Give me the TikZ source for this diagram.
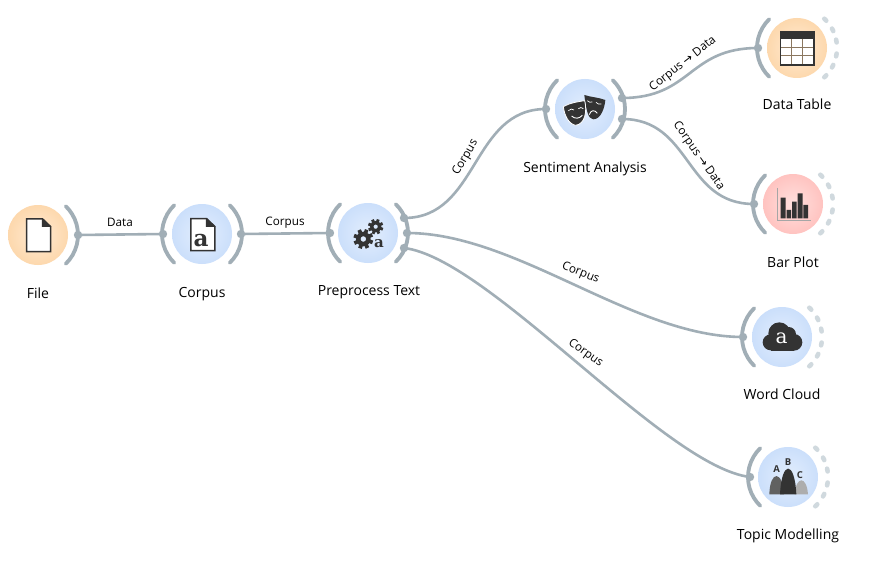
\documentclass[tikz,border=0pt]{standalone}
\usepackage{fontspec}
\setmainfont{Open Sans}
\newfontfamily\serifbold[BoldFont=DejaVu Serif Bold]{DejaVu Serif}
\newfontfamily\arrowfont{DejaVu Sans}
\definecolor{lnk}{HTML}{A1AEB6}
\definecolor{ink}{HTML}{333333}
\definecolor{dots}{HTML}{D0D9DE}
\definecolor{orin}{HTML}{FFEBD4}
\definecolor{orout}{HTML}{FDD8AD}
\definecolor{blin}{HTML}{E3EEFD}
\definecolor{blout}{HTML}{CBDFFB}
\definecolor{rdin}{HTML}{FFE0DE}
\definecolor{rdout}{HTML}{FFC3C0}
\tikzset{
  widget/.style={circle,minimum size=60pt,inner sep=0pt,shade},
  orangew/.style={widget,inner color=orin,outer color=orout},
  bluew/.style={widget,inner color=blin,outer color=blout},
  redw/.style={widget,inner color=rdin,outer color=rdout},
  chan/.style={circle,fill=lnk,minimum size=8.4pt,inner sep=0pt},
  ring/.style={draw=lnk,line width=3.8pt,line cap=round},
  dashring/.style={draw=dots,line width=4.6pt,line cap=round},
  edge/.style={draw=lnk,line width=2.6pt},
  title/.style={font=\fontsize{14}{16}\selectfont,text=black,inner sep=0pt,anchor=base},
  elabel/.style={font=\fontsize{11.7}{13}\selectfont,text=black,inner sep=0pt},
}
\newcommand{\ringL}[1]{\draw[ring] (#1.center) ++(134:40) arc (134:226:40);}
\newcommand{\ringR}[1]{\draw[ring] (#1.center) ++(-46:40) arc (-46:46:40);}
\newcommand{\ringD}[1]{\foreach \a in {-45,-27,-10,10,27,45}{\draw[dashring] (#1.center) ++(\a-2:40) arc (\a-2:\a+2:40);}}
\newcommand{\gearicon}[3]{% cx cy r (zoom units)
  \draw[ink,line width=#3*0.19pt] (#1,#2) circle (#3*0.7);
  \foreach \a in {0,45,...,315}{\draw[ink,line width=#3*0.17pt] (#1,#2) ++(\a+20:#3*0.8) -- ++(\a+20:#3*0.55);}
}
\begin{document}
\begin{tikzpicture}[x=1pt,y=-1pt]
\useasboundingbox (0,0) rectangle (870,575);
\fill[white] (0,0) rectangle (870,575);

% widgets
\node[orangew] (file) at (38,235) {};
\node[bluew] (corpus) at (202,234) {};
\node[bluew] (prep) at (368,233) {};
\node[bluew] (sent) at (585,109) {};
\node[orangew] (table) at (797,48) {};
\node[redw] (bar) at (793,204) {};
\node[bluew] (cloud) at (782,337) {};
\node[bluew] (topic) at (788,477) {};

% rings
\ringR{file}
\ringL{corpus}\ringR{corpus}
\ringL{prep}\ringR{prep}
\ringL{sent}\ringR{sent}
\ringL{table}\ringD{table}
\ringL{bar}\ringD{bar}
\ringL{cloud}\ringD{cloud}
\ringL{topic}\ringD{topic}

% channel anchors
\node[chan] (fileO) at (78,235) {};
\node[chan] (corpusI) at (163,234) {};
\node[chan] (corpusO) at (241,234) {};
\node[chan] (prepI) at (330,233) {};
\node[chan] (prepA) at (404,218) {};
\node[chan] (prepB) at (407,233) {};
\node[chan] (prepC) at (404,248) {};
\node[chan] (sentI) at (546,109) {};
\node[chan] (sentA) at (622,98) {};
\node[chan] (sentB) at (622,119) {};
\node[chan] (tableI) at (758,48) {};
\node[chan] (barI) at (754,204) {};
\node[chan] (cloudI) at (743,337) {};
\node[chan] (topicI) at (750,477) {};

% connectors
\draw[edge] (fileO.center) -- (corpusI.center);
\draw[edge] (corpusO.center) -- (prepI.center);
\draw[edge] (prepA.center) .. controls +(75,0) and +(-75,0) .. (sentI.center);
\draw[edge] (prepB.center) .. controls +(110,0) and +(-110,0) .. (cloudI.center);
\draw[edge] (prepC.center) .. controls +(85,10) and +(-85,-10) .. (topicI.center);
\draw[edge] (sentA.center) .. controls +(70,0) and +(-70,0) .. (tableI.center);
\draw[edge] (sentB.center) .. controls +(70,0) and +(-70,0) .. (barI.center);

% connector labels
\node[elabel] (l1) at (120,222) {Data};
\node[elabel] (l2) at (285,222.5) {Corpus};
\node[elabel,rotate=60] (l3) at (465.5,157.5) {Corpus};
\node[elabel,rotate=38] (l4) at (683,64) {Corpus {\arrowfont→} Data};
\node[elabel,rotate=-55] (l5) at (698.5,156) {Corpus {\arrowfont→} Data};
\node[elabel,rotate=-22] (l6) at (580.5,273) {Corpus};
\node[elabel,rotate=-35] (l7) at (585.5,353) {Corpus};

% titles
\node[title] (t1) at (38,298) {File};
\node[title] (t2) at (202,297) {Corpus};
\node[title] (t3) at (369,295) {Preprocess Text};
\node[title] (t4) at (585,172) {Sentiment Analysis};
\node[title] (t5) at (797,110) {Data Table};
\node[title] (t6) at (793,267) {Bar Plot};
\node[title] (t7) at (782,399) {Word Cloud};
\node[title] (t8) at (788,539) {Topic Modelling};

% icon: file
\begin{scope}[shift={(0,180)},x=0.3333pt,y=-0.3333pt]
\draw[ink,line width=1.5pt,fill=white] (80,117) -- (128,117) -- (152,140) -- (152,215) -- (80,215) -- cycle;
\fill[ink] (126,115) -- (154,141) -- (126,141) -- cycle;
\end{scope}
% icon: corpus
\begin{scope}[shift={(0,180)},x=0.3333pt,y=-0.3333pt]
\draw[ink,line width=1.5pt,fill=white] (573,116) -- (620,116) -- (645,140) -- (645,212) -- (573,212) -- cycle;
\fill[ink] (618,114) -- (647,141) -- (618,141) -- cycle;
\node[text=ink,inner sep=0pt,font=\fontsize{23}{23}\serifbold\bfseries] at (603,182) {a};
\end{scope}
% icon: preprocess
\begin{scope}[shift={(310,180)},x=0.3333pt,y=-0.3333pt]
\gearicon{160}{177}{22}
\gearicon{197}{140}{17}
\node[text=ink,inner sep=0pt,font=\fontsize{15}{15}\serifbold\bfseries] at (207,190) {a};
\end{scope}
% icon: masks
\begin{scope}[shift={(530,60)},x=0.3333pt,y=-0.3333pt]
\fill[ink] (163,105) .. controls (185,112) and (205,112) .. (226,120) .. controls (224,145) and (212,178) .. (190,178) .. controls (175,178) and (168,150) .. (163,105) -- cycle;
\draw[ink,fill=ink,draw=white,line width=.8pt] (100,140) .. controls (120,128) and (145,125) .. (164,122) .. controls (172,155) and (165,192) .. (137,196) .. controls (115,192) and (103,165) .. (100,140) -- cycle;
\draw[white,line width=.7pt] (115,152) .. controls (120,146) and (128,146) .. (132,150);
\draw[white,line width=.7pt] (145,146) .. controls (150,141) and (156,142) .. (160,146);
\draw[white,line width=.9pt] (125,168) .. controls (135,178) and (148,176) .. (157,166);
\draw[white,line width=.7pt] (172,122) .. controls (176,127) and (182,128) .. (187,126);
\draw[white,line width=.7pt] (198,127) .. controls (202,133) and (208,133) .. (214,132);
\draw[white,line width=.9pt] (178,164) .. controls (182,150) and (194,148) .. (202,160);
\end{scope}
% icon: table
\begin{scope}[shift={(740,0)},x=0.3333pt,y=-0.3333pt]
\fill[white] (122,95) rectangle (222,195);
\fill[ink] (122,95) rectangle (222,116);
\draw[black!45!orout,line width=.8pt] (122,142) -- (222,142) (122,166) -- (222,166) (155,116) -- (155,195) (187,116) -- (187,195);
\draw[ink,line width=1.4pt] (122,95) rectangle (222,195);
\end{scope}
% icon: bars
\begin{scope}[shift={(740,160)},x=0.3333pt,y=-0.3333pt]
\draw[black!35,line width=1.3pt] (113,84) -- (113,182) -- (213,182);
\fill[ink] (122,113) rectangle (137,175) (140,150) rectangle (153,175) (156,125) rectangle (170,175) (173,100) rectangle (188,175) (190,135) rectangle (204,175);
\end{scope}
% icon: cloud
\begin{scope}[shift={(730,295)},x=0.3333pt,y=-0.3333pt]
\fill[ink] (122,142) circle (24) (148,115) circle (33) (192,142) circle (25) (176,118) circle (22);
\fill[ink] (122,128) rectangle (192,167);
\node[text=white,inner sep=0pt,font=\fontsize{20}{20}\serifbold] at (155,130) {a};
\end{scope}
% icon: topics
\begin{scope}[shift={(730,435)},x=0.3333pt,y=-0.3333pt]
\fill[black!62] (118,178) .. controls (120,105) and (158,105) .. (162,178) -- cycle;
\fill[black!32] (194,178) .. controls (198,122) and (230,122) .. (234,178) -- cycle;
\fill[ink] (150,178) .. controls (155,75) and (194,75) .. (199,178) -- cycle;
\node[text=ink,inner sep=0pt,font=\fontsize{9.5}{10}\selectfont\bfseries] at (140,102) {A};
\node[text=ink,inner sep=0pt,font=\fontsize{9.5}{10}\selectfont\bfseries] at (174,81) {B};
\node[text=ink,inner sep=0pt,font=\fontsize{9.5}{10}\selectfont\bfseries] at (210,120) {C};
\end{scope}
\end{tikzpicture}
\end{document}
